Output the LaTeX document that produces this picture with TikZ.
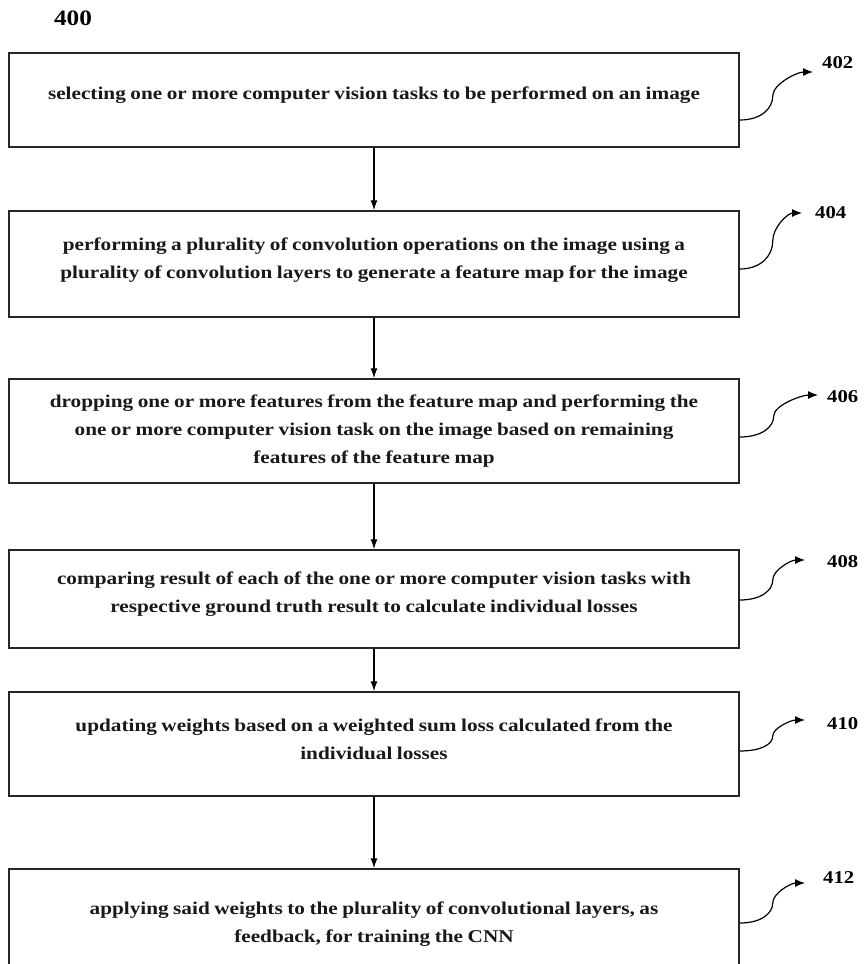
\documentclass[tikz,border=0pt]{standalone}
\usepackage{fontspec}
\setmainfont{Liberation Serif}[FakeStretch=1.18,WordSpace=0.85]
\newfontfamily\reffont{Liberation Serif}[FakeStretch=1.15]
\usetikzlibrary{arrows.meta,calc}
\begin{document}
\begin{tikzpicture}[x=1pt,y=-1pt,
  box/.style={draw=black!85,line width=1.5pt,minimum width=730pt,inner sep=0pt},
  txt/.style={font=\fontsize{18}{28}\selectfont\bfseries,align=center,inner sep=0pt,text=black!90},
  ref/.style={font=\reffont\fontsize{18}{20}\selectfont\bfseries,anchor=west,inner sep=0pt},
  flow/.style={line width=1.3pt,-{Latex[length=10pt,width=7pt]}},
  lead/.style={line width=1.2pt,-{Latex[length=10pt,width=8pt]}}]
\clip (0,0) rectangle (864,964);
\fill[white] (0,0) rectangle (864,964);

\node[font=\reffont\fontsize{22}{24}\selectfont\bfseries] (fig) at (73,18) {400};

\node[box,minimum height=94pt]  (b1) at (374,100) {};
\node[box,minimum height=106pt] (b2) at (374,264) {};
\node[box,minimum height=104pt] (b3) at (374,431) {};
\node[box,minimum height=98pt]  (b4) at (374,599) {};
\node[box,minimum height=104pt] (b5) at (374,744) {};
\node[box,minimum height=104pt] (b6) at (374,921) {};

\node[txt] (x1) at (374,95) {selecting one or more computer vision tasks to be performed on an image};
\node[txt] (x2) at (374,260) {performing a plurality of convolution operations on the image using a\\plurality of convolution layers to generate a feature map for the image};
\node[txt] (x3) at (374,431) {dropping one or more features from the feature map and performing the\\one or more computer vision task on the image based on remaining\\features of the feature map};
\node[txt] (x4) at (374,594) {comparing result of each of the one or more computer vision tasks with\\respective ground truth result to calculate individual losses};
\node[txt] (x5) at (374,739) {updating weights based on a weighted sum loss calculated from the\\individual losses};
\node[txt] (x6) at (374,924) {applying said weights to the plurality of convolutional layers, as\\feedback, for training the CNN};

\draw[flow] (b1) -- (b2);
\draw[flow] (b2) -- (b3);
\draw[flow] (b3) -- (b4);
\draw[flow] (b4) -- (b5);
\draw[flow] (b5) -- (b6);

\node[ref] (r1) at (822,63) {402};
\node[ref] (r2) at (815,213) {404};
\node[ref] (r3) at (827,397) {406};
\node[ref] (r4) at (827,562) {408};
\node[ref] (r5) at (827,724) {410};
\node[ref] (r6) at (823,878) {412};

\coordinate (t1) at (813,72);
\coordinate (t2) at (802,213);
\coordinate (t3) at (818,395);
\coordinate (t4) at (805,560);
\coordinate (t5) at (805,720);
\coordinate (t6) at (805,883);

\draw[lead] ($(b1.east)+(0,20)$) .. controls +(22,0) and +(0,12) .. ++(33,-24) .. controls +(0,-12) and +(-16,0) .. (t1);
\draw[lead] ($(b2.east)+(0,5)$) .. controls +(22,0) and +(0,14) .. ++(33,-28) .. controls +(0,-14) and +(-14,0) .. (t2);
\draw[lead] ($(b3.east)+(0,6)$) .. controls +(22,0) and +(0,11) .. ++(34,-21) .. controls +(0,-11) and +(-16,0) .. (t3);
\draw[lead] ($(b4.east)+(0,1)$) .. controls +(22,0) and +(0,10) .. ++(33,-20) .. controls +(0,-10) and +(-14,0) .. (t4);
\draw[lead] ($(b5.east)+(0,7)$) .. controls +(22,0) and +(0,8) .. ++(33,-15) .. controls +(0,-8) and +(-14,0) .. (t5);
\draw[lead] ($(b6.east)+(0,2)$) .. controls +(22,0) and +(0,10) .. ++(33,-20) .. controls +(0,-10) and +(-14,0) .. (t6);
\end{tikzpicture}
\end{document}
